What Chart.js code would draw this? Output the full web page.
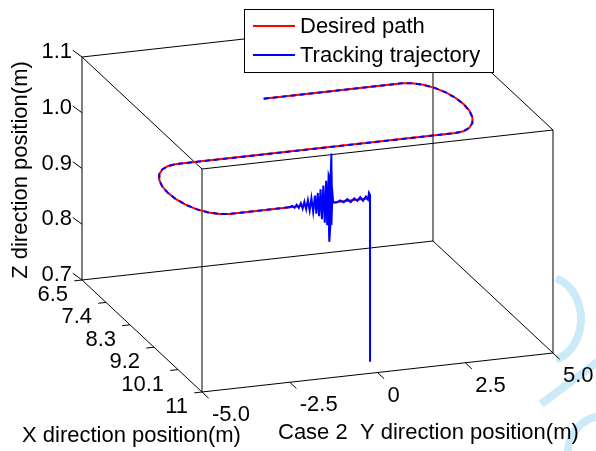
<!DOCTYPE html>
<html>
<head>
<meta charset="utf-8">
<script src="https://cdn.jsdelivr.net/npm/chart.js@4.4.1/dist/chart.umd.min.js"></script>
<style>
  html, body { margin: 0; padding: 0; background: #fff; }
  canvas { display: block; }
</style>
</head>
<body>
<canvas id="figure_path" width="596" height="451"></canvas>
<script>
// axis limits and ticks (m)
const xLim = [6.5, 11];
const yLim = [-5, 5];
const zLim = [0.7, 1.1];
const xTicks = [6.5, 7.4, 8.3, 9.2, 10.1, 11];
const xTickLabels = ['6.5', '7.4', '8.3', '9.2', '10.1', '11'];
const yTicks = [-5, -2.5, 0, 2.5, 5];
const yTickLabels = ['-5.0', '-2.5', '0', '2.5', '5.0'];
const zTicks = [0.7, 0.8, 0.9, 1.0, 1.1];
const zTickLabels = ['0.7', '0.8', '0.9', '1.0', '1.1'];

// desired path (S shaped, flat at z = 1.0)
const pathX = [10.72, 10.72, 10.686, 10.586, 10.427, 10.22, 9.979, 9.72, 9.461, 9.22, 9.013, 8.854, 8.754, 8.72,
  8.72, 8.686, 8.586, 8.427, 8.22, 7.979, 7.72, 7.461, 7.22, 7.013, 6.854, 6.754, 6.72, 6.72];
const pathY = [0, -4.0, -4.259, -4.5, -4.707, -4.866, -4.966, -5.0, -4.966, -4.866, -4.707, -4.5, -4.259, -4.0,
  3.95, 4.209, 4.45, 4.657, 4.816, 4.916, 4.95, 4.916, 4.816, 4.657, 4.45, 4.209, 3.95, 0];
const pathZ = [1.0, 1.0, 1.0, 1.0, 1.0, 1.0, 1.0, 1.0, 1.0, 1.0, 1.0, 1.0, 1.0, 1.0,
  1.0, 1.0, 1.0, 1.0, 1.0, 1.0, 1.0, 1.0, 1.0, 1.0, 1.0, 1.0, 1.0, 1.0];

// tracking trajectory: take-off and settling part (x stays at 10.72)
const trackY = [0, 0, -0.03, -0.06, -0.12, -0.2, -0.28, -0.36, -0.45, -0.55, -0.65, -0.75, -0.85, -0.95,
  -1.05, -1.09, -1.1, -1.12, -1.13, -1.1, -1.08, -1.1, -1.14, -1.17, -1.16, -1.13, -1.13, -1.18,
  -1.22, -1.25, -1.29, -1.33, -1.37, -1.41, -1.45, -1.49, -1.53, -1.57, -1.62, -1.67, -1.72, -1.77,
  -1.82, -1.87, -1.92, -1.97, -2.03, -2.09, -2.15, -2.22, -2.3];
const trackZ = [0.707, 1.006, 1.01, 0.998, 1.004, 0.997, 1.004, 0.998, 1.003, 0.997, 1.003, 0.998, 1.002, 0.999,
  1.0, 1.03, 1.088, 1.05, 0.985, 0.96, 1.0, 1.065, 1.03, 0.95, 0.93, 0.96, 1.04, 1.05,
  0.96, 1.04, 0.965, 1.032, 0.972, 1.026, 0.978, 1.02, 0.983, 1.016, 0.987, 1.012, 0.99, 1.009,
  0.993, 1.007, 0.995, 1.005, 0.997, 1.003, 0.998, 1.002, 1.0];
const trackXLevel = 10.72;
// after settling the trajectory lies on the desired path from this index on
const followFrom = 1;

const font = '22px "Liberation Sans", Arial, sans-serif';

// oblique view of the axis box, in canvas pixels
function project(x, y, z) {
	const u = (x - xLim[0]) / (xLim[1] - xLim[0]);
	const v = (y - yLim[0]) / (yLim[1] - yLim[0]);
	const w = (z - zLim[0]) / (zLim[1] - zLim[0]);
	return {
		x: 82 + u * 120 + v * 351,
		y: 280 + u * 112 - v * 39 - w * 223
	};
}

function series(xs, ys, zs) {
	return xs.map((x, i) => project(x, ys[i], zs[i]));
}

function lineSet(points, colour, width, order, dash) {
	return {
		data: points,
		borderColor: colour,
		borderWidth: width,
		borderDash: dash || [],
		pointRadius: 0,
		showLine: true,
		fill: false,
		tension: 0,
		order: order,
		xAxisID: 'sx',
		yAxisID: 'sy'
	};
}

function boxSets() {
	const sets = [];
	const c = (i, j, k) => [xLim[i], yLim[j], zLim[k]];
	for (let a = 0; a < 2; a++) {
		for (let b = 0; b < 2; b++) {
			const edges = [[c(0, a, b), c(1, a, b)], [c(a, 0, b), c(a, 1, b)], [c(a, b, 0), c(a, b, 1)]];
			edges.forEach(e => sets.push(lineSet([project(...e[0]), project(...e[1])], '#000', 1, 5)));
		}
	}
	xTicks.forEach(t => sets.push(lineSet([project(t, yLim[0], zLim[0]), project(t, yLim[0] - 0.22, zLim[0])], '#000', 1, 5)));
	yTicks.forEach(t => sets.push(lineSet([project(xLim[1], t, zLim[0]), project(xLim[1] + 0.25, t, zLim[0])], '#000', 1, 5)));
	zTicks.forEach(t => sets.push(lineSet([project(xLim[0] - 0.28, yLim[0] - 0.05, t), project(xLim[0], yLim[0], t)], '#000', 1, 5)));
	return sets;
}

const watermark = {
	id: 'watermark',
	beforeDatasetsDraw(chart) {
		const ctx = chart.ctx;
		ctx.save();
		ctx.strokeStyle = '#cdeaf9';
		ctx.lineWidth = 8;
		ctx.beginPath();
		ctx.ellipse(547, 319, 34, 42, 0, -1.3, 1.3);
		ctx.stroke();
		ctx.beginPath();
		ctx.moveTo(541, 404);
		ctx.lineTo(600, 360);
		ctx.stroke();
		ctx.beginPath();
		ctx.arc(604, 452, 36, Math.PI, 1.5 * Math.PI);
		ctx.stroke();
		ctx.restore();
	}
};

const annotations = {
	id: 'annotations',
	afterDatasetsDraw(chart) {
		const ctx = chart.ctx;
		ctx.save();
		ctx.fillStyle = '#000';
		ctx.font = font;
		ctx.textBaseline = 'middle';

		ctx.textAlign = 'right';
		zTicks.forEach((t, i) => {
			const p = project(xLim[0], yLim[0], t);
			ctx.fillText(zTickLabels[i], p.x - 10, p.y - 5);
		});
		xTicks.forEach((t, i) => {
			const p = project(t, yLim[0], zLim[0]);
			ctx.fillText(xTickLabels[i], p.x - 14, p.y + 15);
		});
		ctx.textAlign = 'left';
		yTicks.forEach((t, i) => {
			const p = project(xLim[1], t, zLim[0]);
			ctx.fillText(yTickLabels[i], p.x + 10, p.y + 23);
		});

		ctx.fillText('X direction position(m)', 22, 436);
		ctx.fillText('Case 2  Y direction position(m)', 278, 433);
		ctx.save();
		ctx.translate(21, 170);
		ctx.rotate(-Math.PI / 2);
		ctx.textAlign = 'center';
		ctx.fillText('Z direction position(m)', 0, 0);
		ctx.restore();

		// legend
		ctx.fillStyle = '#fff';
		ctx.fillRect(244, 9, 249, 64);
		ctx.strokeStyle = '#000';
		ctx.lineWidth = 1;
		ctx.strokeRect(244.5, 9.5, 249, 63);
		ctx.lineWidth = 2;
		ctx.strokeStyle = '#ff0000';
		ctx.beginPath();
		ctx.moveTo(253, 26);
		ctx.lineTo(295, 26);
		ctx.stroke();
		ctx.strokeStyle = '#0000ff';
		ctx.beginPath();
		ctx.moveTo(253, 55);
		ctx.lineTo(295, 55);
		ctx.stroke();
		ctx.fillStyle = '#000';
		ctx.fillText('Desired path', 300, 27);
		ctx.fillText('Tracking trajectory', 300, 56);
		ctx.restore();
	}
};

document.addEventListener('DOMContentLoaded', () => {
	const desired = series(pathX, pathY, pathZ);
	const track = trackY.map((y, i) => project(trackXLevel, y, trackZ[i]));
	const follow = [track[track.length - 1]].concat(desired.slice(followFrom));

	new Chart(document.getElementById('figure_path'), {
		type: 'scatter',
		data: {
			datasets: [
				lineSet(track, '#0000ff', 2, 0),
				lineSet(follow, '#0000ff', 2, 1, [5, 4]),
				lineSet(desired, '#ff0000', 2, 2)
			].concat(boxSets())
		},
		options: {
			responsive: false,
			animation: false,
			devicePixelRatio: 1,
			events: [],
			layout: { padding: 0 },
			scales: {
				sx: { type: 'linear', min: 0, max: 596, display: false },
				sy: { type: 'linear', min: 0, max: 451, reverse: true, display: false }
			},
			plugins: {
				legend: { display: false },
				tooltip: { enabled: false }
			}
		},
		plugins: [watermark, annotations]
	});
});
</script>
</body>
</html>
